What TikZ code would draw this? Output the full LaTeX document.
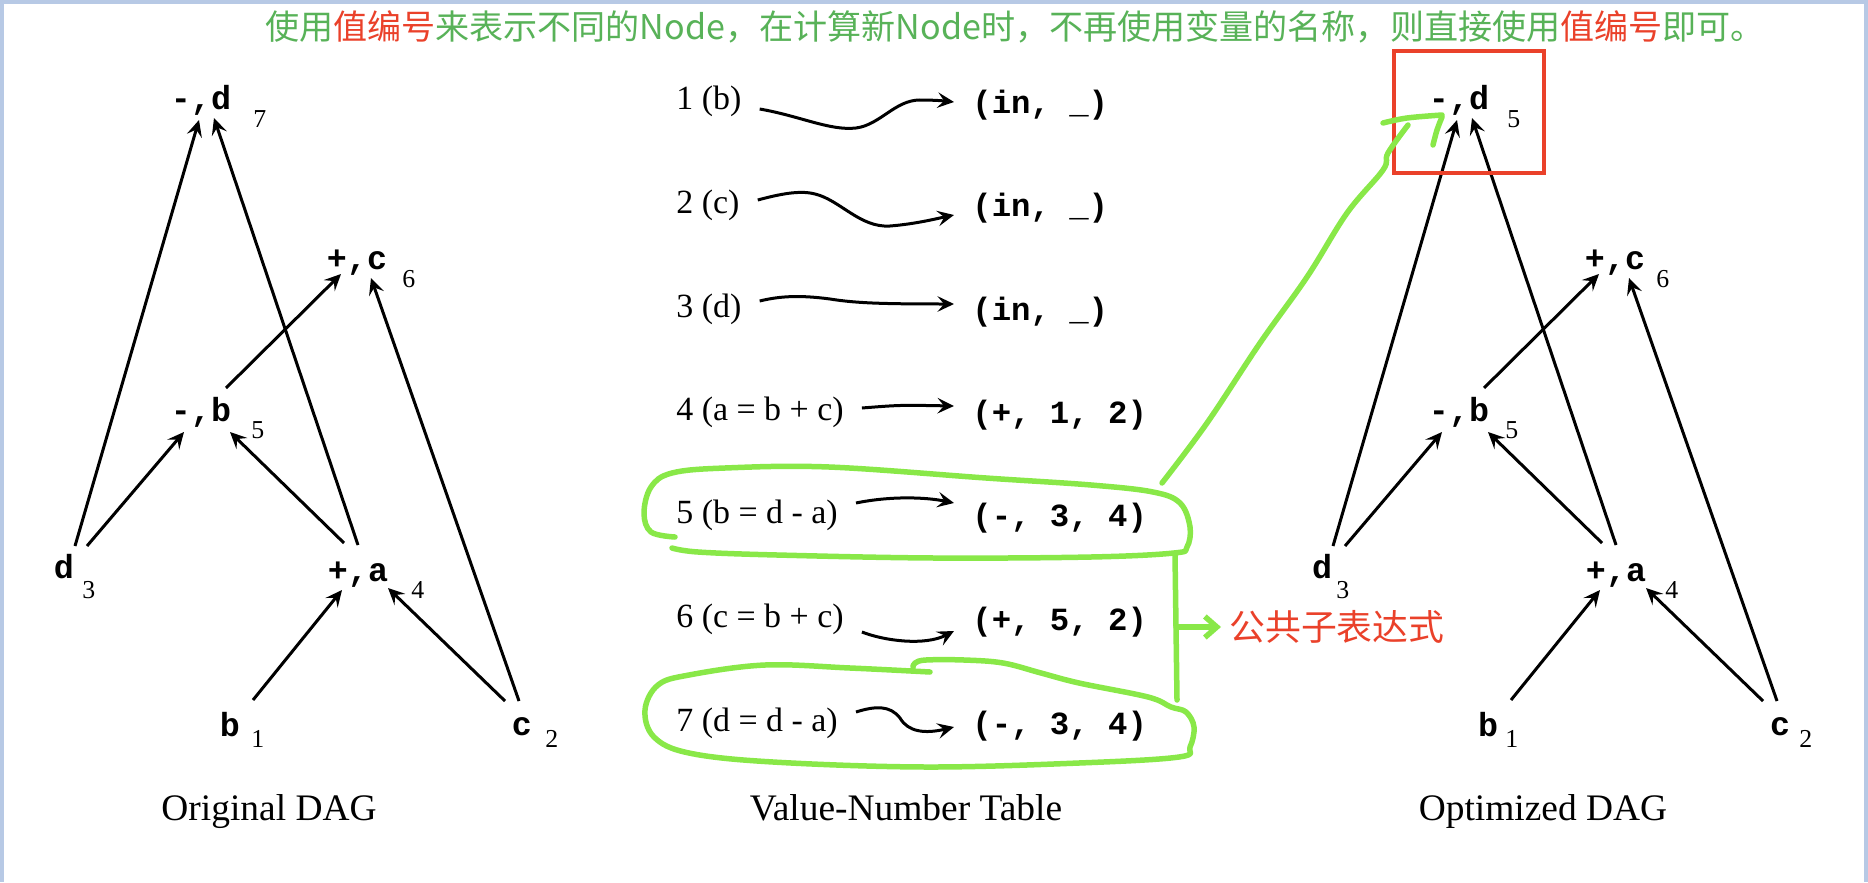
\documentclass[tikz,border=0pt]{standalone}
\usepackage{fontspec}
\setmainfont{Liberation Serif}
\setmonofont{Liberation Mono}
\newfontfamily\cjkfont{Noto Sans CJK SC}
\usepackage{tikz}
\usetikzlibrary{arrows.meta,positioning,calc}
\definecolor{framebg}{RGB}{183,201,229}
\definecolor{titlegreen}{RGB}{88,178,88}
\definecolor{markred}{RGB}{234,65,42}
\definecolor{pengreen}{RGB}{137,232,72}
\tikzstyle{arrow} = [-{Stealth[length=3.3mm,width=3.1mm,inset=1.3mm]}, line width=0.06cm]
\tikzstyle{dagnode} = [font=\fontsize{19}{19}\selectfont\ttfamily\bfseries, inner sep=0, anchor=base]
\tikzstyle{subnum} = [font=\fontsize{14.7}{15}\selectfont, inner sep=0, anchor=base west]
\tikzstyle{rowtext} = [font=\fontsize{19.3}{20}\selectfont, inner sep=0, anchor=base west]
\tikzstyle{valtext} = [font=\fontsize{18.4}{19}\selectfont\ttfamily\bfseries, inner sep=0, anchor=base west]
\tikzstyle{caption} = [font=\fontsize{21.3}{22}\selectfont, inner sep=0, anchor=base]
\tikzstyle{penline} = [pengreen, line width=0.11cm, line cap=round, line join=round]

\begin{document}
\begin{tikzpicture}[x=0.02cm, y=-0.02cm]
    \useasboundingbox (0,0) rectangle (1868,882);
    % Frame
    \fill[framebg] (0,0) rectangle (1868,4);
    \fill[framebg] (0,0) rectangle (4,882);
    \fill[framebg] (1864,0) rectangle (1868,882);
    % Title
    \node[font=\cjkfont\fontsize{19.4}{20}\selectfont, text=titlegreen, inner sep=0] (title) at (1015,27)
        {使用\textcolor{markred}{值编号}来表示不同的Node，在计算新Node时，不再使用变量的名称，则直接使用\textcolor{markred}{值编号}即可。};

    % Original DAG nodes
    \node[dagnode] (o7) at (201,110) {-,d};
    \node[dagnode] (o6) at (357,269) {+,c};
    \node[dagnode] (o5) at (201,421) {-,b};
    \node[dagnode] (o3) at (64,578) {d};
    \node[dagnode] (o4) at (358,581) {+,a};
    \node[dagnode] (o1) at (230,736) {b};
    \node[dagnode] (o2) at (522,735) {c};
    \node[subnum] (o7n) at (253,128) {7};
    \node[subnum] (o6n) at (402,287) {6};
    \node[subnum] (o5n) at (251,438) {5};
    \node[subnum] (o3n) at (82,598) {3};
    \node[subnum] (o4n) at (411,598) {4};
    \node[subnum] (o1n) at (251,747) {1};
    \node[subnum] (o2n) at (545,747) {2};
    % Original DAG arrows
    \draw[arrow] ($(o3.base)+(11,-32)$) -- ($(o7.base)+(-2,10)$);
    \draw[arrow] ($(o4.base)+(0,-36)$) -- ($(o7.base)+(13,8)$);
    \draw[arrow] ($(o3.base)+(23,-32)$) -- ($(o5.base)+(-17,11)$);
    \draw[arrow] ($(o4.base)+(-14,-38)$) -- ($(o5.base)+(29,11)$);
    \draw[arrow] ($(o5.base)+(25,-33)$) -- ($(o6.base)+(-16,5)$);
    \draw[arrow] ($(o2.base)+(-3,-34)$) -- ($(o6.base)+(14,9)$);
    \draw[arrow] ($(o1.base)+(23,-36)$) -- ($(o4.base)+(-16,9)$);
    \draw[arrow] ($(o2.base)+(-17,-34)$) -- ($(o4.base)+(30,7)$);

    % Value-number table
    \node[rowtext] (t1) at (676,110) {1 (b)};
    \node[rowtext] (t2) at (676,213) {2 (c)};
    \node[rowtext] (t3) at (676,317) {3 (d)};
    \node[rowtext] (t4) at (676,420) {4 (a = b + c)};
    \node[rowtext] (t5) at (676,523) {5 (b = d - a)};
    \node[rowtext] (t6) at (676,627) {6 (c = b + c)};
    \node[rowtext] (t7) at (676,731) {7 (d = d - a)};
    \node[valtext] (v1) at (972,113) {(in, \_)};
    \node[valtext] (v2) at (972,216) {(in, \_)};
    \node[valtext] (v3) at (972,320) {(in, \_)};
    \node[valtext] (v4) at (972,423) {(+, 1, 2)};
    \node[valtext] (v5) at (972,526) {(-, 3, 4)};
    \node[valtext] (v6) at (972,630) {(+, 5, 2)};
    \node[valtext] (v7) at (972,734) {(-, 3, 4)};
    % Table arrows
    \draw[arrow] ($(t1.base east)+(18,-1)$) .. controls (800,116) and (830,131) .. (856,128)
        .. controls (880,125) and (895,100) .. (920,100) .. controls (935,100) and (945,101) .. ($(v1.base west)+(-18,-11)$);
    \draw[arrow] ($(t2.base east)+(18,-13)$) .. controls (780,194) and (800,190) .. (815,194)
        .. controls (840,200) and (860,228) .. (890,226) .. controls (915,224) and (935,219) .. ($(v2.base west)+(-18,-1)$);
    \draw[arrow] ($(t3.base east)+(18,-16)$) .. controls (780,296) and (800,295) .. (830,299)
        .. controls (855,303) and (880,304) .. ($(v3.base west)+(-18,-16)$);
    \draw[arrow] ($(t4.base east)+(18,-12)$) .. controls (900,405) .. ($(v4.base west)+(-18,-17)$);
    \draw[arrow] ($(t5.base east)+(18,-20)$) .. controls (890,496) and (925,497) .. ($(v5.base west)+(-18,-23)$);
    \draw[arrow] ($(t6.base east)+(18,5)$) .. controls (885,641) and (925,646) .. ($(v6.base west)+(-18,1)$);
    \draw[arrow] ($(t7.base east)+(18,-19)$) .. controls (875,706) and (890,705) .. (900,718)
        .. controls (908,732) and (925,734) .. ($(v7.base west)+(-18,-7)$);

    % Optimized DAG nodes
    \node[dagnode] (p7) at (1459,110) {-,d};
    \node[dagnode] (p6) at (1615,269) {+,c};
    \node[dagnode] (p5) at (1459,421) {-,b};
    \node[dagnode] (p3) at (1322,578) {d};
    \node[dagnode] (p4) at (1616,581) {+,a};
    \node[dagnode] (p1) at (1488,736) {b};
    \node[dagnode] (p2) at (1780,735) {c};
    \node[subnum] (p7n) at (1507,128) {5};
    \node[subnum] (p6n) at (1656,287) {6};
    \node[subnum] (p5n) at (1505,438) {5};
    \node[subnum] (p3n) at (1336,598) {3};
    \node[subnum] (p4n) at (1665,598) {4};
    \node[subnum] (p1n) at (1505,747) {1};
    \node[subnum] (p2n) at (1799,747) {2};
    % Optimized DAG arrows
    \draw[arrow] ($(p3.base)+(11,-32)$) -- ($(p7.base)+(-2,10)$);
    \draw[arrow] ($(p4.base)+(0,-36)$) -- ($(p7.base)+(13,8)$);
    \draw[arrow] ($(p3.base)+(23,-32)$) -- ($(p5.base)+(-17,11)$);
    \draw[arrow] ($(p4.base)+(-14,-38)$) -- ($(p5.base)+(29,11)$);
    \draw[arrow] ($(p5.base)+(25,-33)$) -- ($(p6.base)+(-16,5)$);
    \draw[arrow] ($(p2.base)+(-3,-34)$) -- ($(p6.base)+(14,9)$);
    \draw[arrow] ($(p1.base)+(23,-36)$) -- ($(p4.base)+(-16,9)$);
    \draw[arrow] ($(p2.base)+(-17,-34)$) -- ($(p4.base)+(30,7)$);

    % Labels
    \node[caption] (capl) at (269,820) {Original DAG};
    \node[caption] (capm) at (906,820) {Value-Number Table};
    \node[caption] (capr) at (1543,820) {Optimized DAG};

    % Hand-drawn marks
    \node[draw=markred, line width=0.08cm, minimum width=3cm, minimum height=2.44cm, inner sep=0] (hl) at (1469,112) {};
    \draw[penline] plot[smooth, tension=0.6] coordinates {(675,537) (651,532) (644,513) (651,487) (672,473) (725,468) (829,467)
        (986,478) (1091,485) (1153,492) (1180,503) (1190,527) (1187,547) (1174,553) (1091,557) (934,558) (777,555) (698,552) (672,548)};
    \draw[penline] plot[smooth, tension=0.6] coordinates {(930,672) (850,668) (765,665) (689,675) (658,685) (645,710) (654,737)
        (689,753) (773,762) (926,767) (1079,763) (1179,757) (1190,747) (1194,727) (1186,712) (1171,707) (1148,697) (1079,683)
        (1041,673) (1003,663) (964,660) (926,660) (915,663) (913,667)};
    \draw[penline] plot[smooth, tension=0.6] coordinates {(1162,483) (1207,423) (1260,343) (1307,277) (1347,213) (1383,170)
        (1388,153) (1408,125)};
    \draw[penline] plot[smooth, tension=0.6] coordinates {(1383,123) (1407,118) (1442,115)};
    \draw[penline] plot[smooth, tension=0.6] coordinates {(1442,117) (1437,130) (1433,145)};
    \draw[penline] (1175,555) -- (1177,700);
    \node[font=\cjkfont\fontsize{20.4}{21}\selectfont, text=markred, anchor=west, inner sep=0] (cse) at (1229,627) {公共子表达式};
    \coordinate (brk) at (1176,627);
    \draw[penline, -{Straight Barb[length=0.24cm,width=0.42cm]}, shorten >=0.16cm] (brk) -- (cse.west);
\end{tikzpicture}
\end{document}
